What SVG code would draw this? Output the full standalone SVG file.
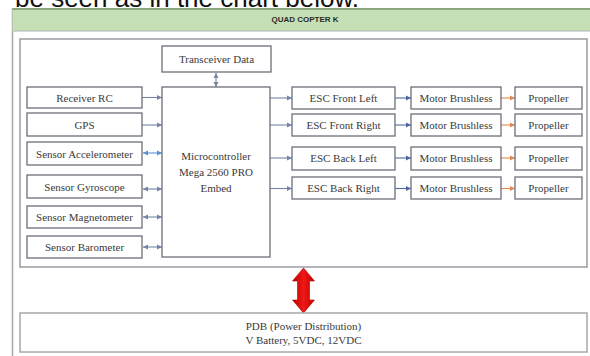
<svg xmlns="http://www.w3.org/2000/svg" width="590" height="356" viewBox="0 0 590 356">
<defs>
<style>
.bx{fill:#fff;stroke:#6c6f7a;stroke-width:1.3}
.t{font-family:"Liberation Serif","Times New Roman",serif;font-size:11px;fill:#3a3a3a;text-anchor:middle}
.c{fill:none;stroke:#7584a6;stroke-width:1.1}
.cb{fill:none;stroke:#5b8fd0;stroke-width:1.1}
.cm{fill:none;stroke:#4f68a0;stroke-width:1.1}
.co{fill:none;stroke:#e08a50;stroke-width:1.1}
</style>
<marker id="ag" markerUnits="userSpaceOnUse" markerWidth="6" markerHeight="6" refX="5" refY="3" orient="auto-start-reverse"><path d="M0,0.5 L5,3 L0,5.5 z" fill="#7584a6"/></marker>
<marker id="ab" markerUnits="userSpaceOnUse" markerWidth="6" markerHeight="6" refX="5" refY="3" orient="auto-start-reverse"><path d="M0,0.5 L5,3 L0,5.5 z" fill="#5b8fd0"/></marker>
<marker id="am" markerUnits="userSpaceOnUse" markerWidth="6" markerHeight="6" refX="5" refY="3" orient="auto-start-reverse"><path d="M0,0.5 L5,3 L0,5.5 z" fill="#4f68a0"/></marker>
<marker id="ao" markerUnits="userSpaceOnUse" markerWidth="6" markerHeight="6" refX="5" refY="3" orient="auto-start-reverse"><path d="M0,0.5 L5,3 L0,5.5 z" fill="#e08a50"/></marker>
<linearGradient id="red" x1="0" y1="0" x2="1" y2="0"><stop offset="0" stop-color="#c00000"/><stop offset="0.5" stop-color="#f01818"/><stop offset="1" stop-color="#c00000"/></linearGradient>
</defs>
<rect width="590" height="356" fill="#fff"/>
<text x="15" y="7" font-family="Liberation Sans, Arial, sans-serif" font-size="26" fill="#111">be seen as in the chart below.</text>
<g id="frame">
<rect x="12.5" y="9" width="590" height="360" fill="#fff" stroke="#a8a8a8" stroke-width="1.5"/>
<rect x="12.5" y="9" width="590" height="22" fill="#c5e0b5" stroke="none"/>
<line x1="12.5" y1="9" x2="590" y2="9" stroke="#7a9a6c" stroke-width="1.5"/>
<line x1="12.5" y1="31" x2="590" y2="31" stroke="#b0b8b0" stroke-width="1"/>
<text x="305" y="22" font-family="Liberation Sans, Arial, sans-serif" font-size="8" font-weight="bold" fill="#2a2a2a" text-anchor="middle">QUAD COPTER K</text>
</g>
<g id="panel"><rect x="20" y="39" width="567" height="228" fill="#fff" stroke="#9a9aa2" stroke-width="1.5"/></g>
<g id="connectors">
<line class="c" x1="216" y1="73" x2="216" y2="87" marker-start="url(#ag)" marker-end="url(#ag)"/>
<line class="c" x1="142" y1="97.5" x2="162" y2="97.5" marker-end="url(#ag)"/>
<line class="c" x1="142" y1="125" x2="162" y2="125" marker-end="url(#ag)"/>
<line class="cb" x1="143" y1="153" x2="162" y2="153" marker-start="url(#ab)" marker-end="url(#ab)"/>
<line class="c" x1="143" y1="189" x2="162" y2="189" marker-start="url(#ag)" marker-end="url(#ag)"/>
<line class="c" x1="143" y1="217" x2="162" y2="217" marker-start="url(#ag)" marker-end="url(#ag)"/>
<line class="c" x1="143" y1="247" x2="162" y2="247" marker-start="url(#ag)" marker-end="url(#ag)"/>
<line class="c" x1="270" y1="98" x2="292" y2="98" marker-end="url(#ag)"/>
<line class="c" x1="270" y1="125" x2="292" y2="125" marker-end="url(#ag)"/>
<line class="c" x1="270" y1="158" x2="292" y2="158" marker-end="url(#ag)"/>
<line class="c" x1="270" y1="188.5" x2="292" y2="188.5" marker-end="url(#ag)"/>
<line class="cm" x1="395" y1="98" x2="411" y2="98" marker-end="url(#am)"/>
<line class="cm" x1="395" y1="125" x2="411" y2="125" marker-end="url(#am)"/>
<line class="cm" x1="395" y1="158" x2="411" y2="158" marker-end="url(#am)"/>
<line class="cm" x1="395" y1="188.5" x2="411" y2="188.5" marker-end="url(#am)"/>
<line class="co" x1="501" y1="98" x2="515" y2="98" marker-end="url(#ao)"/>
<line class="co" x1="501" y1="125" x2="515" y2="125" marker-end="url(#ao)"/>
<line class="co" x1="501" y1="158" x2="515" y2="158" marker-end="url(#ao)"/>
<line class="co" x1="501" y1="188.5" x2="515" y2="188.5" marker-end="url(#ao)"/>
<path d="M303.5,268 L314.5,281 L309.5,281 L309.5,300 L314.5,300 L303.5,313 L292.5,300 L297.5,300 L297.5,281 L292.5,281 Z" fill="url(#red)" stroke="#b00000" stroke-width="0.6"/>
</g>
<g id="transceiver"><rect class="bx" x="162" y="46" width="109" height="26"/><text class="t" x="216.5" y="62.5">Transceiver Data</text></g>
<g id="mcu"><rect class="bx" x="162" y="87" width="108" height="170"/>
<text class="t" x="216" y="160">Microcontroller</text><text class="t" x="216" y="176">Mega 2560 PRO</text><text class="t" x="216" y="192">Embed</text></g>
<g id="receiver"><rect class="bx" x="27" y="87" width="115" height="21"/><text class="t" x="84.5" y="101.5">Receiver RC</text></g>
<g id="gps"><rect class="bx" x="27" y="113" width="115" height="23"/><text class="t" x="84.5" y="128.5">GPS</text></g>
<g id="accel"><rect class="bx" x="27" y="142" width="115" height="23"/><text class="t" x="84.5" y="157.5">Sensor Accelerometer</text></g>
<g id="gyro"><rect class="bx" x="27" y="175" width="115" height="23"/><text class="t" x="84.5" y="190.5">Sensor Gyroscope</text></g>
<g id="magneto"><rect class="bx" x="27" y="206" width="115" height="22"/><text class="t" x="84.5" y="221">Sensor Magnetometer</text></g>
<g id="baro"><rect class="bx" x="27" y="236" width="115" height="22"/><text class="t" x="84.5" y="251">Sensor Barometer</text></g>
<g id="escfl"><rect class="bx" x="292" y="87" width="103" height="22"/><text class="t" x="343.5" y="102">ESC Front Left</text></g>
<g id="escfr"><rect class="bx" x="292" y="114" width="103" height="22"/><text class="t" x="343.5" y="129">ESC Front Right</text></g>
<g id="escbl"><rect class="bx" x="292" y="147" width="103" height="23"/><text class="t" x="343.5" y="162">ESC Back Left</text></g>
<g id="escbr"><rect class="bx" x="292" y="177" width="103" height="22"/><text class="t" x="343.5" y="192">ESC Back Right</text></g>
<g id="motor1"><rect class="bx" x="411" y="87" width="90" height="22"/><text class="t" x="456" y="102">Motor Brushless</text></g>
<g id="motor2"><rect class="bx" x="411" y="114" width="90" height="22"/><text class="t" x="456" y="129">Motor Brushless</text></g>
<g id="motor3"><rect class="bx" x="411" y="147" width="90" height="23"/><text class="t" x="456" y="162">Motor Brushless</text></g>
<g id="motor4"><rect class="bx" x="411" y="177" width="90" height="22"/><text class="t" x="456" y="192">Motor Brushless</text></g>
<g id="prop1"><rect class="bx" x="515" y="87" width="67" height="22"/><text class="t" x="548.5" y="102">Propeller</text></g>
<g id="prop2"><rect class="bx" x="515" y="114" width="67" height="22"/><text class="t" x="548.5" y="129">Propeller</text></g>
<g id="prop3"><rect class="bx" x="515" y="147" width="67" height="23"/><text class="t" x="548.5" y="162">Propeller</text></g>
<g id="prop4"><rect class="bx" x="515" y="177" width="67" height="22"/><text class="t" x="548.5" y="192">Propeller</text></g>
<g id="pdb"><rect x="20" y="313" width="567" height="39" fill="#fff" stroke="#a8a8a8" stroke-width="1.5"/>
<text class="t" x="303.5" y="330">PDB (Power Distribution)</text><text class="t" x="303.5" y="344">V Battery, 5VDC, 12VDC</text></g>
</svg>
